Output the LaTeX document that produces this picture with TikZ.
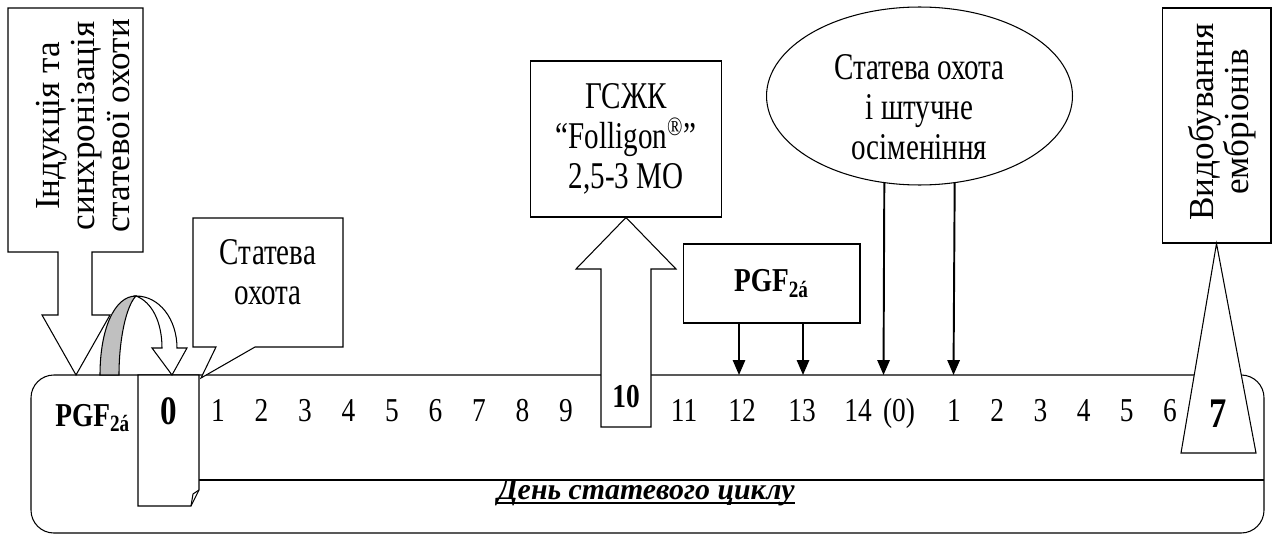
\documentclass[tikz,border=0pt]{standalone}
\usepackage{fontspec}
\setmainfont{Liberation Serif}[FakeStretch=0.82]
\newfontfamily\plainserif{Liberation Serif}
\newfontfamily\boxfont{Liberation Serif}[FakeStretch=0.77]
\usetikzlibrary{shapes.geometric,arrows.meta}

\definecolor{ribbon}{RGB}{192,192,192}
\tikzset{
  box/.style={draw, fill=white, line width=0.6pt},
  day/.style={anchor=base, inner sep=0pt, font=\fontsize{19}{22}\selectfont},
  bday/.style={anchor=base, inner sep=0pt, font=\fontsize{23}{26}\selectfont\bfseries},
  txt/.style={align=center, inner sep=0pt, font=\fontsize{21.5}{22.6}\boxfont},
  vtxt/.style={align=center, inner sep=0pt, rotate=90, font=\fontsize{20}{20}\plainserif},
  down/.style={line width=1.1pt, -{Triangle[length=8.5pt,width=7pt]}},
}

\begin{document}
\begin{tikzpicture}[x=0.02cm, y=-0.02cm]
\useasboundingbox (0,0) rectangle (1273,537);

\draw[line width=0.6pt, rounded corners=13pt] (31,375) rectangle (1264,533);
\draw[line width=0.9pt] (199,480) -- (1264,480);

\draw[box] (138,375) -- (199,375) -- (199,490) -- (191,506) -- (138,506) -- cycle;
\draw[line width=0.6pt] (191,506) -- (193,494) -- (199,490);
\node[bday] (zero) at (168.5,424) {0};
\node[anchor=base west, inner sep=0pt, font=\fontsize{19}{22}\selectfont\bfseries] (pgfL) at (55,426) {PGF\textsubscript{2á}};

\draw[box] (8,8) -- (143,8) -- (143,252) -- (92,252) -- (92,315) -- (110,315) -- (76,375)
  -- (42,315) -- (58,315) -- (58,252) -- (8,252) -- cycle;
\node[vtxt] (induk) at (83,126) {Індукція та\\синхронізація\\статевої охоти};

\fill[ribbon, draw=black, line width=0.6pt] (100,375) .. controls (100,330) and (114,296) .. (136,296)
  .. controls (126,306) and (119,340) .. (119,375) -- cycle;
\draw[box] (136,296) .. controls (160,296) and (177,320) .. (177,348) -- (187,348) -- (172,375)
  -- (152,348) -- (162,348) .. controls (162,322) and (152,302) .. (136,296) -- cycle;

\draw[box] (193,218) -- (343,218) -- (343,347) -- (255,347) -- (201,378) -- (216,347) -- (193,347) -- cycle;
\node[txt] (heat) at (268,272) {Статева\\охота};

\node[box, txt, minimum width=3.82cm, minimum height=3.12cm] (gszhk) at (626,139)
  {ГСЖК\\“Folligon\textsuperscript{®}”\\2,5-3 МО};
\draw[box] (601,427) -- (601,269) -- (576,269) -- (gszhk.south) -- (676,269) -- (651,269) -- (651,427) -- cycle;
\node[anchor=base, inner sep=0pt, font=\fontsize{19}{22}\selectfont\bfseries] (ten) at (626,407) {10};

\node[box, minimum width=3.54cm, minimum height=1.58cm, font=\fontsize{19}{22}\selectfont\bfseries] (pgfR)
  at (771.5,283.5) {PGF\textsubscript{2á}};
\coordinate (c12) at (739,375);
\coordinate (c13) at (803,375);
\draw[down] (pgfR.south -| c12) -- (c12);
\draw[down] (pgfR.south -| c13) -- (c13);

\node[draw, ellipse, line width=0.6pt, minimum width=6.12cm, minimum height=3.56cm, inner sep=0pt] (ovul) at (919.5,96) {};
\node[txt] (ai) at (919.5,107) {Статева охота\\і штучне\\осіменіння};
\coordinate (c14) at (883.5,375);
\coordinate (c1) at (953.5,375);
\draw[down] (ovul.-112.5) -- (c14);
\draw[down] (ovul.-68.2) -- (c1);

\node[box, minimum width=2.18cm, minimum height=4.7cm] (embr) at (1216.5,125.5) {};
\node[vtxt] (embrt) at (1222,122) {Видобування\\ембріонів};
\draw[box] (embr.south) -- (1256,453) -- (1181,453) -- cycle;
\node[bday, font=\fontsize{24}{26}\selectfont\bfseries] (seven) at (1218,427) {7};

\foreach \d in {1,...,9} \node[day] (d\d) at (174.5+43.5*\d,421) {\d};
\foreach \d/\x in {11/684,12/742,13/802,14/858} \node[day] (d\d) at (\x,421) {\d};
\node[day] (dz) at (899,421) {(0)};
\foreach \d in {1,...,6} \node[day] (e\d) at (910.8+43.2*\d,421) {\d};

\node[anchor=base, inner sep=0pt, font=\fontsize{17}{20}\plainserif\bfseries\itshape] (cycle) at (646,499) {День статевого циклу};
\draw[line width=1.2pt] ([yshift=-2.5pt]cycle.base west) -- ([yshift=-2.5pt]cycle.base east);
\end{tikzpicture}
\end{document}
